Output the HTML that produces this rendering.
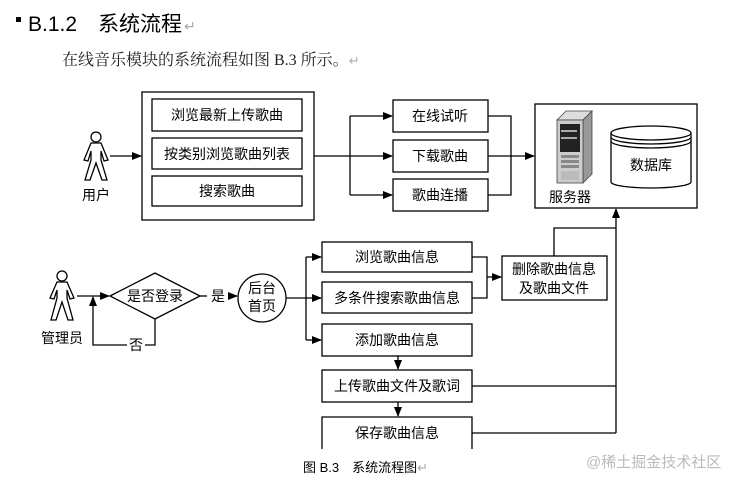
<!DOCTYPE html>
<html><head><meta charset="utf-8"><style>
html,body{margin:0;padding:0;background:#fff;}
svg{display:block;}
text{font-family:"Liberation Sans","Noto Sans CJK SC",sans-serif;fill:#000;}
</style></head><body>
<svg width="730" height="477" viewBox="0 0 730 477" xmlns="http://www.w3.org/2000/svg">
<defs>
<marker id="a" markerWidth="10" markerHeight="8" refX="9" refY="4" orient="auto" markerUnits="userSpaceOnUse">
<path d="M0,0 L10,4 L0,8 Z" fill="#000"/></marker>
</defs>
<rect x="16" y="17" width="5" height="5" fill="#000"/>
<text x="28" y="31" font-size="21">B.1.2</text>
<text x="98" y="31" font-size="21">系统流程</text>
<text x="184" y="31" font-size="14" fill="#aaa" style="fill:#aaa">↵</text>
<text x="62" y="65" font-size="16" style="font-family:'Liberation Serif','Noto Serif CJK SC',serif;fill:#222">在线音乐模块的系统流程如图 B.3 所示。<tspan style="fill:#aaa" font-size="13">↵</tspan></text>

<g fill="none" stroke="#000" stroke-width="1.3">
<!-- user -->
<circle cx="96" cy="137" r="5"/>
<path d="M91,143 L101,143 L108,160 L104,161 L101,151 L101,160 L107,180 L102,180 L96,163 L90,180 L85,180 L91,160 L91,151 L88,161 L84,160 Z"/>
<line x1="110" y1="156" x2="141" y2="156" marker-end="url(#a)"/>
<rect x="142" y="92" width="172" height="128"/>
<rect x="152" y="99" width="150" height="32"/>
<rect x="152" y="138" width="150" height="31"/>
<rect x="152" y="176" width="150" height="30"/>
<line x1="314" y1="156" x2="350" y2="156"/>
<path d="M350,116 L350,195"/>
<line x1="350" y1="116" x2="392" y2="116" marker-end="url(#a)"/>
<line x1="350" y1="156" x2="392" y2="156" marker-end="url(#a)"/>
<line x1="350" y1="195" x2="392" y2="195" marker-end="url(#a)"/>
<rect x="393" y="100" width="95" height="32"/>
<rect x="393" y="140" width="95" height="32"/>
<rect x="393" y="179" width="95" height="32"/>
<path d="M488,116 L511,116 L511,195 L488,195"/>
<line x1="488" y1="156" x2="534" y2="156" marker-end="url(#a)"/>
<rect x="535" y="104" width="162" height="104"/>
<!-- cylinder -->
<path d="M611,133 L611,182 A40,6 0 0 0 691,182 L691,133"/>
<ellipse cx="651" cy="133" rx="40" ry="7"/>
<path d="M611,137 A40,7 0 0 0 691,137"/>
<path d="M611,141 A40,7 0 0 0 691,141"/>

<!-- admin -->
<circle cx="62" cy="276" r="5"/>
<path d="M57,282 L67,282 L74,298 L70,299 L67,290 L67,298 L73,320 L68,320 L62,302 L56,320 L51,320 L57,298 L57,290 L54,299 L50,298 Z"/>
<line x1="77" y1="296" x2="109" y2="296" marker-end="url(#a)"/>
<path d="M110,296 L155,273 L200,296 L155,319 Z"/>
<path d="M155,319 L155,345 L145,345"/>
<path d="M127,345 L93,345 L93,297" marker-end="url(#a)"/>
<line x1="200" y1="296" x2="207" y2="296"/>
<line x1="229" y1="296" x2="237" y2="296" marker-end="url(#a)"/>
<circle cx="262" cy="298" r="24"/>
<line x1="286" y1="298" x2="306" y2="298"/>
<path d="M306,257 L306,340"/>
<line x1="306" y1="257" x2="321" y2="257" marker-end="url(#a)"/>
<line x1="306" y1="298" x2="321" y2="298" marker-end="url(#a)"/>
<line x1="306" y1="340" x2="321" y2="340" marker-end="url(#a)"/>
<rect x="322" y="242" width="150" height="30"/>
<rect x="322" y="282" width="150" height="31"/>
<rect x="322" y="324" width="150" height="32"/>
<rect x="322" y="370" width="150" height="32"/>
<path d="M322,449 L322,417 L472,417 L472,449"/>
<line x1="398" y1="356" x2="398" y2="369" marker-end="url(#a)"/>
<line x1="398" y1="402" x2="398" y2="416" marker-end="url(#a)"/>
<path d="M472,257 L487,257 L487,298 L472,298"/>
<line x1="487" y1="277" x2="501" y2="277" marker-end="url(#a)"/>
<rect x="502" y="256" width="105" height="44"/>
<path d="M554,256 L554,228 L616,228"/>
<path d="M472,386 L616,386"/>
<path d="M472,433 L616,433"/>
<line x1="616" y1="433" x2="616" y2="209" marker-end="url(#a)"/>
</g>
<!-- server icon -->
<g>
<path d="M557,120 L566,111 L592,111 L583,120 Z" fill="#ddd" stroke="#444" stroke-width="0.8"/>
<path d="M583,120 L592,111 L592,174 L583,183 Z" fill="#999" stroke="#444" stroke-width="0.8"/>
<rect x="557" y="120" width="26" height="63" fill="#ccc" stroke="#444" stroke-width="0.8"/>
<rect x="560" y="124" width="20" height="28" fill="#222"/>
<rect x="561" y="130" width="16" height="2" fill="#aaa"/>
<rect x="561" y="137" width="16" height="2" fill="#aaa"/>
<rect x="561" y="155" width="18" height="3" fill="#888"/>
<rect x="561" y="160" width="18" height="3" fill="#888"/>
<rect x="561" y="165" width="18" height="3" fill="#888"/>
<rect x="561" y="171" width="18" height="9" fill="#bbb"/>
</g>
<g font-size="14">
<text x="227" y="120" text-anchor="middle">浏览最新上传歌曲</text>
<text x="227" y="159" text-anchor="middle">按类别浏览歌曲列表</text>
<text x="227" y="196" text-anchor="middle">搜索歌曲</text>
<text x="96" y="200" text-anchor="middle">用户</text>
<text x="440" y="121" text-anchor="middle">在线试听</text>
<text x="440" y="161" text-anchor="middle">下载歌曲</text>
<text x="440" y="200" text-anchor="middle">歌曲连播</text>
<text x="570" y="202" text-anchor="middle">服务器</text>
<text x="651" y="170" text-anchor="middle">数据库</text>
<text x="62" y="343" text-anchor="middle">管理员</text>
<text x="155" y="301" text-anchor="middle">是否登录</text>
<text x="136" y="350" text-anchor="middle">否</text>
<text x="218" y="301" text-anchor="middle">是</text>
<text x="262" y="293" text-anchor="middle">后台</text>
<text x="262" y="311" text-anchor="middle">首页</text>
<text x="397" y="262" text-anchor="middle">浏览歌曲信息</text>
<text x="397" y="303" text-anchor="middle">多条件搜索歌曲信息</text>
<text x="397" y="345" text-anchor="middle">添加歌曲信息</text>
<text x="397" y="391" text-anchor="middle">上传歌曲文件及歌词</text>
<text x="397" y="438" text-anchor="middle">保存歌曲信息</text>
<text x="554" y="274" text-anchor="middle">删除歌曲信息</text>
<text x="554" y="293" text-anchor="middle">及歌曲文件</text>
</g>
<text x="303" y="472" font-size="13">图 B.3　系统流程图<tspan style="fill:#aaa">↵</tspan></text>
<text x="586" y="467" font-size="15" style="fill:#bbb">@稀土掘金技术社区</text>
</svg>
</body></html>
